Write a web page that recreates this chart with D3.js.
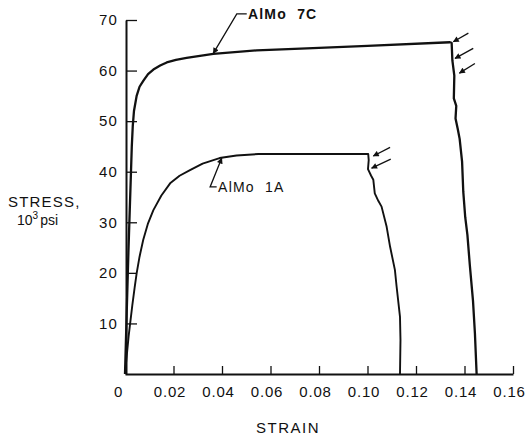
<!DOCTYPE html>
<html><head><meta charset="utf-8">
<script src="https://cdn.jsdelivr.net/npm/d3@7"></script>
<style>
body{margin:0;background:#fff;}
text{font-family:"Liberation Sans",Arial,Helvetica,sans-serif;fill:#111;}
</style></head>
<body><svg id="c" width="525" height="437"></svg>
<script>
const xTicks=[0,0.02,0.04,0.06,0.08,0.10,0.12,0.14,0.16];
const xTickLabels=["0","0.02","0.04","0.06","0.08","0.10","0.12","0.14","0.16"];
const yTicks=[10,20,30,40,50,60,70];
const yTickLabels=["10","20","30","40","50","60","70"];

const strain7C=[0,0.0007,0.0014,0.0022,0.0028,0.0032,0.0037,0.0048,0.006,0.0076,0.0095,0.0117,0.0145,0.0172,0.021,0.0254,0.0364,0.0543,0.075,0.10,0.134,0.1347,0.135,0.1358,0.1356,0.1366,0.1363,0.1372,0.138,0.139,0.1395,0.1403,0.1412,0.1422,0.1435,0.1443,0.145];
const stress7C=[0,12,24,36,45,49,52,55,56.8,58,59.3,60.2,61,61.6,62.1,62.5,63.3,64,64.4,64.9,65.6,65.5,62,59,54.5,53,50.5,48.5,46.5,42,36,31,27.5,21.5,14.5,8,0];

const strain1A=[0,0.0008,0.0015,0.002,0.003,0.004,0.0048,0.006,0.0075,0.0095,0.0117,0.015,0.0186,0.0225,0.0268,0.032,0.039,0.046,0.055,0.07,0.1003,0.1005,0.1002,0.1015,0.1024,0.103,0.1045,0.1058,0.1079,0.1093,0.1113,0.112,0.1134,0.1136,0.1134];
const stress1A=[0,4,7.5,9.5,13.5,17.2,19.9,23.2,26.5,29.8,32.4,35.3,37.7,39.2,40.3,41.6,42.7,43.2,43.5,43.5,43.5,42.3,40.5,39.2,38.4,35.7,34.2,33.1,29.1,25.2,20.6,17.3,11.3,6.7,0];

// fracture arrows [tailStrain, tailStress, tipStrain, tipStress]
const arrows7C=[[0.1416,67.4,0.1354,65.7],[0.1436,64.4,0.1361,62.4],[0.1443,61.4,0.1379,59.5]];
const arrows1A=[[0.1093,44.8,0.1024,43.1],[0.1096,42.5,0.1017,40.7]];

const svg=d3.select("#c");
const x=d3.scaleLinear().domain([0,0.16]).range([125,513]);
const y=d3.scaleLinear().domain([0,70]).range([374,20]);

svg.append("defs").append("marker").attr("id","ah").attr("viewBox","0 0 10 10")
  .attr("refX",9).attr("refY",5).attr("markerWidth",8).attr("markerHeight",6)
  .attr("markerUnits","userSpaceOnUse").attr("orient","auto")
  .append("path").attr("d","M0,0 L10,5 L0,10 z").attr("fill","#111");

// axes
const xAxis=d3.axisBottom(x).tickValues(xTicks).tickSize(-8).tickFormat((d,i)=>xTickLabels[i]).tickSizeOuter(0);
const gx=svg.append("g").attr("transform","translate(0,"+y(0)+")").call(xAxis);
gx.select(".domain").attr("stroke","#111").attr("stroke-width",2);
gx.selectAll(".tick line").attr("stroke","#111").attr("stroke-width",1.3);
gx.selectAll(".tick text").attr("y",12).attr("dx",-4).attr("font-size",15).attr("letter-spacing",0.8).style("font-family","'Liberation Sans',Arial,sans-serif");
gx.selectAll(".tick").filter(d=>d===0).select("text").attr("dx",-7);
gx.selectAll(".tick").filter(d=>d===0).select("line").remove();

const yAxis=d3.axisLeft(y).tickValues(yTicks).tickSize(-11).tickFormat((d,i)=>yTickLabels[i]).tickSizeOuter(0);
const gy=svg.append("g").attr("transform","translate("+(x(0)+1)+",0)").call(yAxis);
gy.select(".domain").attr("stroke","#111").attr("stroke-width",2);
gy.selectAll(".tick line").attr("stroke","#111").attr("stroke-width",1.3);
gy.selectAll(".tick text").attr("x",-8).attr("font-size",15).attr("letter-spacing",1.2).style("font-family","'Liberation Sans',Arial,sans-serif");

// curves
const line=d3.line().x(d=>x(d[0])).y(d=>y(d[1]));
svg.append("path").datum(strain7C.map((s,i)=>[s,stress7C[i]]))
  .attr("d",line).attr("fill","none").attr("stroke","#111").attr("stroke-width",2.3).attr("stroke-linejoin","round");
svg.append("path").datum(strain1A.map((s,i)=>[s,stress1A[i]]))
  .attr("d",line).attr("fill","none").attr("stroke","#111").attr("stroke-width",1.9).attr("stroke-linejoin","round");

// fracture arrows
arrows7C.concat(arrows1A).forEach(a=>{
  svg.append("line").attr("x1",x(a[0])).attr("y1",y(a[1])).attr("x2",x(a[2])).attr("y2",y(a[3]))
    .attr("stroke","#111").attr("stroke-width",1.3).attr("marker-end","url(#ah)");
});

// labels with leaders
function leader(tip,elbow,end){
  svg.append("path").attr("d","M"+x(end[0])+","+y(end[1])+"L"+x(elbow[0])+","+y(elbow[1])+"L"+x(tip[0])+","+y(tip[1]))
    .attr("fill","none").attr("stroke","#111").attr("stroke-width",1.3).attr("marker-end","url(#ah)");
}
leader([0.0364,63.4],[0.0461,71.2],[0.0502,71.2]);
svg.append("text").attr("x",x(0.0507)).attr("y",y(70.1)).attr("font-size",14).attr("font-weight","bold").attr("letter-spacing",1.2).attr("xml:space","preserve").text("AlMo  7C");
leader([0.0399,42.7],[0.0351,37.0],[0.0378,37.0]);
svg.append("text").attr("x",x(0.0384)).attr("y",y(35.9)).attr("font-size",14).attr("letter-spacing",1.2).attr("xml:space","preserve").text("AlMo  1A");

// axis titles
svg.append("text").attr("x",8).attr("y",207).attr("font-size",15).attr("letter-spacing",1.2).text("STRESS,");
const t2=svg.append("text").attr("x",17).attr("y",225).attr("font-size",14);
t2.append("tspan").text("10");
t2.append("tspan").attr("dy",-6).attr("font-size",10).text("3");
t2.append("tspan").attr("dy",6).attr("dx",2).text("psi");
svg.append("text").attr("x",288).attr("y",433).attr("text-anchor","middle").attr("font-size",15).attr("letter-spacing",1.5).text("STRAIN");
</script></body></html>
